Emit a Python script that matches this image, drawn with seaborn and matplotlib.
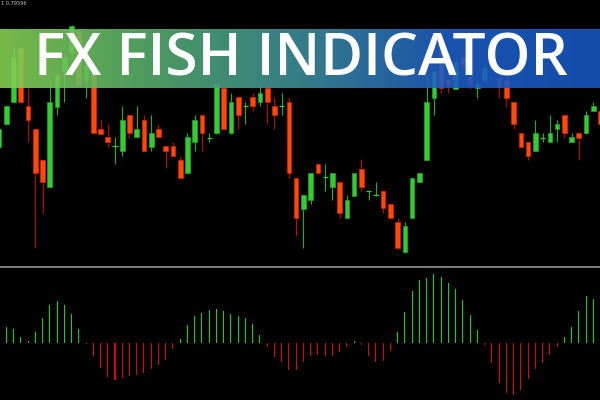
import numpy as np
import pandas as pd
import matplotlib
matplotlib.use("Agg")
import matplotlib.pyplot as plt
from matplotlib.colors import LinearSegmentedColormap
import seaborn as sns

# candles, read off the picture as rows from the top of the price panel
# (smaller number = higher price, the axis is flipped below)
opens = [146.7, 124.3, 102.3, 48.3, 106.3, 129, 159.7, 186.7, 106.7, 71,
         53.3, 31, 80, 74, 129, 137.3, 146.3, 151, 115.3, 137.3,
         120, 146.7, 129, 146.3, 146.3, 160, 173, 142, 115.3, 137.7,
         133.3, 88.3, 133.3, 97.3, 106.3, 97.3, 101.7, 88.3, 106.3, 106.3,
         102, 177.7, 208.7, 200, 164.3, 177.3, 186.7, 181.7, 217.7, 195.7,
         169, 190.7, 195.3, 190.7, 204, 222, 252.3, 217.7, 181.7, 159.7,
         97.7, 40, 80, 89, 57.3, 76.7, 88.3, 80, 50, 78,
         80, 102, 133, 142, 151, 137.7, 142, 128.7, 115.3, 142,
         133.3, 133.3, 111, 111]
highs = [129, 105, 48, 44, 88.3, 129, 159.7, 80, 73, 55,
         25, 29, 64, 72, 120, 124.3, 137.3, 106.3, 115, 106.3,
         115.3, 115.3, 124.3, 146, 142, 155.7, 133.3, 115, 115, 133.3,
         84, 86, 92.7, 97, 101.7, 92.7, 84.3, 84.3, 97.3, 92.7,
         97.3, 177.5, 195, 173, 164.3, 164.3, 173, 181.7, 195, 173,
         159.3, 190.7, 181.7, 190.7, 204, 217.7, 221.7, 177.7, 173, 75,
         70, 36, 78, 58, 55, 75, 80, 62, 35, 76,
         76, 101.8, 132.8, 141.8, 120, 133.3, 115.3, 120, 115.1, 133.3,
         133.1, 111, 102, 110.8]
lows = [147, 125, 103, 103, 141.7, 248.3, 212.7, 187, 115, 101.7,
        58, 85, 97.5, 134, 134, 146.7, 164.3, 155.7, 137.7, 137.5,
        151, 151, 137.5, 168.3, 156, 178, 173.3, 151, 151, 142,
        133.5, 128.9, 133.5, 128.7, 124.3, 111, 106.3, 124.3, 128.7, 115,
        177.7, 235.7, 248.3, 204, 173.2, 191, 200, 217.7, 217.9, 195.9,
        191, 200, 195.5, 212.7, 217.9, 248.5, 252.5, 217.9, 181.9, 160,
        115, 93.3, 93.3, 89.2, 67, 89, 97.7, 82, 52, 97.7,
        106.7, 128.7, 146.9, 160, 151.2, 142, 142.2, 142, 137.7, 142.2,
        159.7, 133.5, 111.2, 124.5]
closes = [129, 106, 57, 102.3, 119.7, 172.7, 181.7, 102, 75, 57,
          26, 85, 65, 133.3, 133.5, 142, 146.3, 120, 133.3, 129,
          151, 133.3, 137.3, 151, 155.7, 177.7, 137.3, 120, 133.3, 137.7,
          84.3, 128.7, 101.7, 115, 106.3, 106.3, 92.7, 102, 115, 106.3,
          173, 217.7, 195, 173, 173, 177.3, 173, 212.7, 199.7, 173,
          186.7, 190.7, 195.3, 208.3, 217.7, 248.3, 226, 177.7, 173, 101.7,
          71, 88.3, 84.3, 61.7, 66.7, 84.3, 84, 68, 38, 86.7,
          97.7, 124.3, 146.7, 155.7, 133.3, 137.7, 133.3, 124.3, 133.3, 137.3,
          137.7, 115.3, 106.3, 124.3]

# fish histogram, bars 1..83 (units of a third of a pixel)
fish = [46, 41, 16, 5, 32, 73, 113, 126, 113, 86,
        41, -3, -41, -76, -102, -112, -105, -99, -97, -91,
        -79, -67, -52, -19, 11, 53, 80, 89, 98, 101,
        95, 86, 81, 73, 56, 24, -14, -43, -58, -82,
        -82, -59, -39, -37, -40, -39, -29, -12, 5, -7,
        -40, -57, -55, -24, 32, 92, 155, 187, 195, 206,
        198, 179, 162, 127, 82, 38, -7, -62, -121, -152,
        -156, -141, -109, -79, -61, -37, -14, 16, 47, 95,
        140, 131, 120]

title = "FX FISH INDICATOR"
price_label = "1 0.79596"

sns.set_style("dark", {"axes.facecolor": "black", "figure.facecolor": "black"})

bull, bull_edge, bull_wick = "#33cc33", "#1f9a1f", "#22b022"
bear, bear_edge, bear_wick = "#ff4a0a", "#d02000", "#c00800"

df = pd.DataFrame({"o": opens, "h": highs, "l": lows, "c": closes})
df["x"] = np.arange(len(df))
df["up"] = df["c"] <= df["o"]
df["doji"] = (df["c"] - df["o"]).abs() < 0.01

fig = plt.figure(figsize=(6, 4), dpi=100)
fig.patch.set_facecolor("black")
ax = fig.add_axes([0, 134 / 400, 1, 266 / 400])
axf = fig.add_axes([0, 0, 1, 133.3 / 400])

xl = (0.131, 82.924)

# wicks
ax.vlines(df["x"], df["l"], df["h"],
          colors=np.where(df["up"], bull_wick, bear_wick), lw=0.8, zorder=2)
# bodies
body = df[~df["doji"]]
ax.bar(body["x"], (body["c"] - body["o"]).abs(), bottom=body[["o", "c"]].min(axis=1),
       width=0.64, color=np.where(body["up"], bull, bear),
       edgecolor=np.where(body["up"], bull_edge, bear_edge), lw=0.6, zorder=3)
dj = df[df["doji"]]
ax.hlines(dj["c"], dj["x"] - 0.36, dj["x"] + 0.36, colors=bull, lw=0.9, zorder=3)

# title banner
banner_cmap = LinearSegmentedColormap.from_list(
    "banner", ["#84d050", "#56ac6c", "#3c8c98", "#1e5cc4", "#1656c0"])
grad = np.linspace(0, 1, 256).reshape(1, -1)
ax.imshow(grad, extent=(xl[0], xl[1], 87.7, 29), aspect="auto", cmap=banner_cmap,
          alpha=0.9, zorder=5)
ax.text(41.67, 76, title, ha="center", va="baseline", color="white",
        fontsize=42, family="Open Sans", weight="semibold", zorder=6)

ax.set_xlim(*xl)
ax.set_ylim(266, 0)
ax.set_axis_off()

# fish indicator
fdf = pd.DataFrame({"bar": np.arange(1, len(fish) + 1), "fish": fish})
fdf["side"] = np.where(fdf["fish"] >= 0, "up", "down")
sns.barplot(data=fdf, x="bar", y="fish", hue="side", native_scale=True,
            palette={"up": "#00e000", "down": "#e80000"}, width=0.14,
            dodge=False, legend=False, errorbar=None, saturation=1,
            linewidth=0, ax=axf)
axf.set_facecolor("black")
axf.set_xlim(*xl)
axf.set_ylim(-172, 228)
axf.set_xticks([])
axf.set_yticks([])
axf.set_xlabel("")
axf.set_ylabel("")
for s in ["left", "right", "bottom"]:
    axf.spines[s].set_visible(False)
axf.spines["top"].set_visible(True)
axf.spines["top"].set_color("#7a7a7a")
axf.spines["top"].set_linewidth(1.5)

fig.text(0.002, 0.998, price_label, color="#c8c8c8", fontsize=3.6, ha="left", va="top")

fig.savefig("out.png", dpi=100, facecolor="black")
